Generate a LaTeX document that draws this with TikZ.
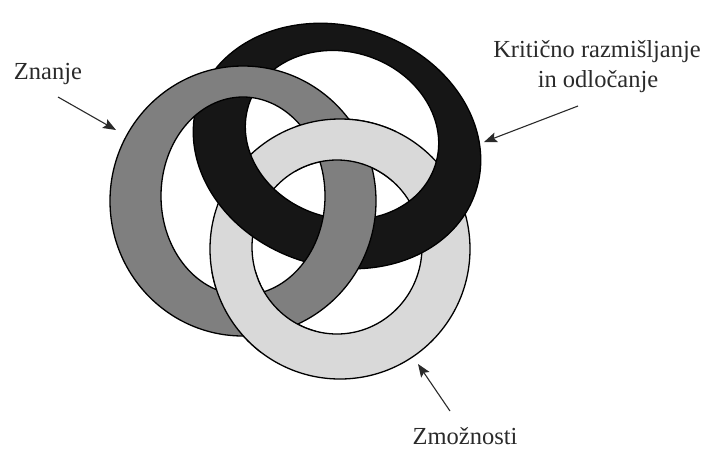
\documentclass[tikz,border=0pt]{standalone}
\usepackage{fontspec}
\setmainfont{Liberation Serif}
\usetikzlibrary{arrows.meta}
\definecolor{ringgray}{HTML}{7F7F7F}
\definecolor{ringblack}{HTML}{161616}
\definecolor{ringlight}{HTML}{D9D9D9}
\definecolor{inkgray}{HTML}{2A2A2A}
\begin{document}
\begin{tikzpicture}[x=1pt,y=-1pt,
  ring/.style={draw=black, line width=1.3pt, even odd rule},
  lbl/.style={font=\fontsize{24.5}{29}\selectfont, text=inkgray, inner sep=0pt, anchor=base},
  pointer/.style={draw=inkgray, line width=1.1pt, -{Stealth[length=13pt,width=10pt,inset=2.5pt]}},
  lightpath/.style={insert path={(340,249) ellipse [x radius=130pt, y radius=130pt]
                                 (337,247) ellipse [x radius=85pt, y radius=87pt]}},
  blackpath/.style={insert path={(337,146) ellipse [x radius=146pt, y radius=120pt, rotate=-18]
                                 (342,135) ellipse [x radius=98pt, y radius=83pt, rotate=-18]}},
  graypath/.style={insert path={(243,201) ellipse [x radius=133pt, y radius=135pt]
                                (243,196) ellipse [x radius=82pt, y radius=99pt]}}]
\useasboundingbox (0,0) rectangle (709,451);

% rings: light under black, black under gray, gray under light
\path[ring, fill=ringlight, lightpath];
\path[ring, fill=ringblack, blackpath];
\path[ring, fill=ringgray, graypath];
\begin{scope}
  \clip (295,104) rectangle (396,181);
  \path[ring, fill=ringlight, lightpath];
\end{scope}
\begin{scope}
  \clip (192,272) rectangle (316,352);
  \path[ring, fill=ringlight, lightpath];
\end{scope}

% labels
\node[lbl] (znanje) at (48,79) {Znanje};
\node[lbl] (krit1) at (597,57) {Kritično razmišljanje};
\node[lbl] (krit2) at (598,87) {in odločanje};
\node[lbl] (zmoz) at (465,444) {Zmožnosti};

% pointers
\coordinate (zn-s) at (58,97);
\coordinate (zn-t) at (116,130);
\coordinate (kr-s) at (578,106);
\coordinate (kr-t) at (484,142);
\coordinate (zm-s) at (450,411);
\coordinate (zm-t) at (418,364);
\draw[pointer] (zn-s) -- (zn-t);
\draw[pointer] (kr-s) -- (kr-t);
\draw[pointer] (zm-s) -- (zm-t);
\end{tikzpicture}
\end{document}
